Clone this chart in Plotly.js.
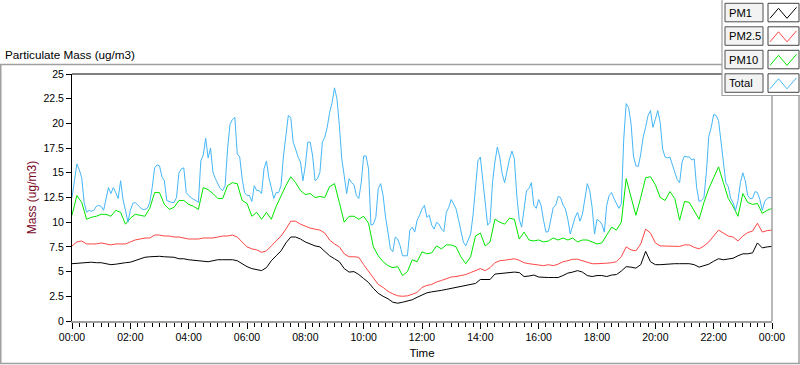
<!DOCTYPE html>
<html>
<head>
<meta charset="utf-8">
<script src="https://cdn.plot.ly/plotly-3.0.1.min.js"></script>
<style>
  html, body { margin: 0; padding: 0; background: #ffffff; }
  #chart { width: 800px; height: 365px; }
</style>
</head>
<body>
<div id="chart"></div>
<script>
const seriesNames = ['PM1', 'PM2.5', 'PM10', 'Total'];
const seriesColors = ['#000000', '#ff4646', '#00e600', '#45b6f7'];

// PM1, PM2.5, PM10: one sample every 10 minutes, 00:00 .. 24:00
const pm1 = [
  5.8, 5.85, 5.9, 5.9, 5.95, 5.9, 5.9, 5.8, 5.7, 5.75, 5.85, 5.9, 5.95, 6.1, 6.25, 6.45, 6.5, 6.55, 6.55, 6.5, 6.5, 6.45, 6.3, 6.3, 6.2, 6.15, 6.05, 6.0, 6.0,
  6.1, 6.2, 6.2, 6.2, 6.2, 6.1, 5.8, 5.5, 5.3, 5.2, 5.1, 5.4, 6.1, 6.6, 7.1, 7.9, 8.5, 8.5, 8.3, 8.0, 7.8, 7.6, 7.5, 7.0, 6.6, 6.3, 6.0, 5.3, 4.95,
  5.0, 4.7, 4.3, 3.9, 3.3, 2.8, 2.5, 2.25, 1.9, 1.8, 1.9, 2.0, 2.15, 2.4, 2.65, 2.85, 2.95, 3.0, 3.1, 3.2, 3.3, 3.4, 3.5, 3.6, 3.7, 3.8, 4.2, 4.2, 4.2,
  4.75, 4.8, 4.8, 4.85, 4.95, 4.9, 4.5, 4.55, 4.65, 4.45, 4.4, 4.4, 4.4, 4.4, 4.6, 4.85, 4.95, 5.1, 4.95, 4.6, 4.5, 4.6, 4.6, 4.5, 4.65, 4.7, 5.05, 5.5, 5.45,
  5.35, 5.7, 7.05, 6.0, 5.7, 5.7, 5.75, 5.75, 5.8, 5.8, 5.8, 5.8, 5.7, 5.45, 5.6, 5.75, 6.05, 6.3, 6.2, 6.3, 6.35, 6.6, 6.8, 6.8, 6.9, 7.9, 7.4, 7.5, 7.55
];
const pm25 = [
  7.6, 8.0, 8.1, 7.8, 7.8, 7.8, 7.9, 7.8, 7.7, 7.8, 7.8, 7.8, 8.0, 8.2, 8.3, 8.4, 8.4, 8.7, 8.7, 8.6, 8.6, 8.5, 8.5, 8.4, 8.3, 8.3, 8.3, 8.4, 8.4,
  8.4, 8.5, 8.6, 8.6, 8.7, 8.5, 8.0, 7.5, 7.3, 7.2, 6.95, 7.1, 7.6, 8.1, 8.6, 9.3, 10.1, 10.1, 9.8, 9.6, 9.4, 9.3, 9.2, 8.9, 8.2, 7.8, 7.5, 6.8, 6.5,
  6.5, 6.45, 5.7, 5.0, 4.3, 3.7, 3.4, 3.0, 2.75, 2.55, 2.5, 2.55, 2.7, 2.9, 3.4, 3.6, 3.7, 3.95, 4.1, 4.3, 4.45, 4.5, 4.6, 4.7, 4.9, 5.1, 5.3, 5.1, 5.4,
  5.9, 6.1, 6.15, 6.2, 6.3, 6.15, 5.9, 5.8, 5.75, 5.7, 5.6, 5.7, 5.6, 5.75, 6.0, 6.1, 6.25, 6.25, 6.1, 5.95, 5.8, 5.8, 5.8, 5.85, 5.9, 6.0, 6.5, 7.5, 7.2,
  7.1, 7.8, 9.3, 8.9, 7.9, 7.6, 7.6, 7.6, 7.55, 7.55, 7.7, 7.7, 7.45, 7.3, 7.6, 8.0, 8.6, 9.2, 8.9, 8.6, 8.5, 8.1, 8.6, 8.95, 9.1, 9.9, 9.0, 9.15, 9.2
];
const pm10 = [
  10.7, 12.7, 12.0, 10.3, 10.5, 10.6, 10.8, 10.8, 10.6, 11.2, 11.0, 9.8, 10.4, 10.8, 10.7, 10.6, 11.4, 13.0, 13.0, 11.8, 11.3, 11.5, 12.2, 12.2, 11.8, 11.6, 11.3, 13.5, 13.3,
  12.9, 12.4, 12.4, 13.7, 14.0, 13.9, 12.2, 11.9, 10.6, 11.0, 10.3, 11.0, 10.3, 11.6, 12.7, 13.7, 14.6, 14.0, 13.2, 12.8, 12.9, 12.5, 12.6, 12.5, 13.6, 13.9, 12.0, 10.0, 10.6,
  10.6, 10.3, 10.6, 9.9, 7.5, 6.6, 6.0, 5.6, 5.4, 5.5, 4.6, 5.0, 6.2, 6.0, 7.0, 6.8, 6.9, 7.6, 7.3, 7.7, 7.7, 7.5, 6.5, 5.8, 6.5, 8.6, 8.9, 7.6, 8.0,
  10.3, 10.0, 9.8, 10.4, 10.3, 8.3, 9.0, 8.2, 8.1, 8.2, 8.0, 8.1, 8.4, 8.2, 8.4, 8.2, 8.4, 8.0, 8.2, 8.2, 8.0, 7.8, 7.9, 8.7, 9.5, 9.2, 10.0, 14.4, 12.4,
  10.7, 12.5, 14.5, 14.6, 13.8, 12.5, 12.2, 13.1, 12.4, 10.2, 12.1, 12.0, 11.2, 10.3, 12.0, 13.4, 14.5, 15.6, 14.0, 12.4, 11.6, 10.6, 12.9, 12.0, 11.8, 11.9, 10.9, 11.2, 11.4
];
// Total: one sample every 5 minutes, 00:00 .. 24:00 (one row per hour)
const total = [
  12.5, 14.5, 15.9, 15.3, 14.5, 12.0, 11.0, 11.2, 11.1, 11.2, 11.6, 11.7,
  11.6, 11.2, 12.5, 13.5, 12.9, 13.5, 13.0, 12.4, 14.2, 12.3, 11.2, 10.0,
  11.2, 11.9, 12.0, 11.7, 11.5, 11.3, 11.3, 11.4, 12.0, 13.5, 15.5, 15.8,
  15.7, 14.6, 14.2, 12.2, 12.1, 12.0, 12.0, 12.5, 15.0, 15.4, 15.5, 13.0,
  12.7, 12.5, 12.3, 12.2, 12.0, 16.2, 16.8, 18.5, 16.5, 17.5, 15.05, 14.4,
  13.9, 13.4, 13.2, 13.7, 17.4, 19.9, 20.4, 20.6, 16.9, 16.6, 14.4, 13.0,
  12.7, 12.7, 12.1, 13.7, 13.2, 13.2, 12.9, 15.4, 16.2, 14.5, 13.5, 12.4,
  13.0, 13.0, 13.7, 16.7, 18.75, 20.8, 20.6, 18.1, 17.4, 16.6, 16.1, 14.2,
  15.7, 18.1, 18.1, 16.7, 14.2, 14.4, 15.05, 18.1, 18.6, 19.6, 21.1, 22.1,
  23.6, 22.5, 19.8, 16.4, 14.7, 12.9, 14.4, 14.0, 13.8, 12.7, 12.4, 14.0,
  16.7, 16.7, 15.4, 9.7, 9.8, 10.5, 13.4, 13.9, 12.7, 10.5, 9.0, 7.3,
  7.0, 8.5, 8.3, 7.6, 6.6, 6.6, 6.6, 9.2, 9.5, 9.0, 10.2, 10.7,
  11.35, 11.7, 10.5, 10.7, 9.7, 9.3, 10.0, 9.8, 9.3, 9.05, 11.0, 11.5,
  12.3, 11.85, 11.35, 10.3, 9.3, 8.0, 7.6, 8.3, 8.8, 10.7, 13.5, 16.2,
  16.6, 14.4, 11.7, 9.7, 10.0, 14.0, 16.1, 17.6, 16.6, 14.9, 14.0, 15.2,
  16.4, 17.2, 16.4, 12.7, 10.3, 9.5, 11.2, 13.2, 13.4, 14.0, 11.7, 11.4,
  12.3, 11.7, 10.2, 9.0, 9.05, 10.3, 11.5, 11.7, 12.6, 12.5, 11.75, 11.35,
  10.3, 8.8, 9.7, 10.5, 11.0, 10.1, 10.8, 12.4, 13.9, 13.2, 11.5, 8.8,
  10.3, 10.1, 9.8, 9.0, 11.7, 12.7, 13.0, 12.4, 11.85, 11.4, 11.85, 18.4,
  22.0, 21.6, 20.0, 16.7, 15.7, 15.65, 16.9, 18.6, 19.6, 20.8, 21.3, 19.6,
  20.4, 21.3, 20.1, 17.4, 16.6, 16.5, 16.6, 15.8, 14.9, 14.3, 14.0, 16.1,
  16.7, 16.6, 16.6, 16.3, 16.4, 13.5, 12.1, 12.2, 12.5, 15.05, 18.7, 19.6,
  20.9, 20.8, 20.3, 18.1, 16.4, 14.0, 13.6, 12.4, 11.95, 11.2, 12.2, 14.0,
  15.0, 14.2, 12.7, 12.4, 12.4, 13.1, 13.0, 12.3, 11.2, 12.1, 12.4, 12.5,
  12.5
];

const tickHours = [0, 2, 4, 6, 8, 10, 12, 14, 16, 18, 20, 22, 24];
const tickLabels = ['00:00', '02:00', '04:00', '06:00', '08:00', '10:00', '12:00', '14:00', '16:00', '18:00', '20:00', '22:00', '00:00'];

const hours10 = pm1.map((_, i) => i / 6);
const hours5 = total.map((_, i) => i / 12);
const values = [pm1, pm25, pm10, total];
const xs = [hours10, hours10, hours10, hours5];

const traces = values.map((v, k) => ({
  type: 'scatter', mode: 'lines', name: seriesNames[k],
  x: xs[k], y: v,
  line: { color: seriesColors[k], width: 1 },
  hoverinfo: 'skip'
}));

// pixel -> paper helpers (plot area: x 72..772, y 74..321)
const L = 72, R = 772, T = 74, B = 321;
const X = px => (px - L) / (R - L);
const Y = py => (B - py) / (B - T);

const gray = '#a0a0a0';
const shapes = [];
function line(x0, y0, x1, y1, color, w) {
  shapes.push({ type: 'line', xref: 'paper', yref: 'paper', x0: X(x0), y0: Y(y0), x1: X(x1), y1: Y(y1),
    line: { color: color, width: w }, layer: 'above' });
}
function rect(x0, y0, x1, y1, fill, color, w) {
  shapes.push({ type: 'rect', xref: 'paper', yref: 'paper', x0: X(x0), y0: Y(y0), x1: X(x1), y1: Y(y1),
    fillcolor: fill, line: { color: color, width: w }, layer: 'above' });
}
// outer frame
line(0, 64.5, 722, 64.5, gray, 1.5);
line(0.75, 64, 0.75, 364, gray, 1.5);
line(0, 363.5, 800, 363.5, gray, 1.5);
line(799, 95, 799, 364, gray, 1.5);
// plot frame top/right
line(L, T, R, T, '#000000', 1);
line(R, T, R, B, gray, 1.5);
// legend panel
rect(722, -2, 801, 95.5, '#ffffff', gray, 1.2);

const annotations = [];
const rowTops = [3.3, 26.8, 50.3, 73.8];
rowTops.forEach((ty, k) => {
  rect(725, ty, 763, ty + 18.5, '#f3f3f3', '#505050', 1);
  rect(768, ty, 799, ty + 18.5, '#ffffff', '#404040', 1);
  const pts = [[770, ty + 15], [778.5, ty + 5], [787, ty + 15], [796.5, ty + 4]];
  shapes.push({ type: 'path', xref: 'paper', yref: 'paper', layer: 'above',
    path: 'M' + pts.map(p => X(p[0]) + ',' + Y(p[1])).join(' L'),
    line: { color: seriesColors[k], width: 1 } });
  annotations.push({ xref: 'paper', yref: 'paper', x: X(726.5), y: Y(ty + 9.5), xanchor: 'left', yanchor: 'middle',
    text: seriesNames[k], showarrow: false, font: { family: 'Liberation Sans, Arial, sans-serif', size: 11.2, color: '#000000' } });
});

const layout = {
  width: 800, height: 365,
  margin: { l: L, r: 800 - R, t: T, b: 365 - B },
  paper_bgcolor: '#ffffff', plot_bgcolor: '#ffffff',
  showlegend: false,
  font: { family: 'Liberation Sans, Arial, sans-serif', size: 10.5, color: '#000000' },
  title: { text: 'Particulate Mass (ug/m3)', x: 5 / 800, xanchor: 'left', xref: 'container',
    y: 1 - 55 / 365, yanchor: 'middle', yref: 'container',
    font: { size: 11.7, color: '#000000' } },
  xaxis: {
    range: [0, 24], fixedrange: true,
    tickmode: 'array', tickvals: tickHours, ticktext: tickLabels,
    ticks: 'outside', ticklen: 6, tickcolor: '#000000', tickwidth: 1,
    minor: { tickmode: 'linear', tick0: 0, dtick: 0.25, ticks: 'outside', ticklen: 4, tickcolor: '#000000', showgrid: false },
    showgrid: false, zeroline: false,
    showline: true, linecolor: gray, linewidth: 1.5,
    tickfont: { size: 10.5 },
    title: { text: 'Time', font: { size: 11.5, color: '#000000' }, standoff: 7 }
  },
  yaxis: {
    range: [0, 25], fixedrange: true,
    tickmode: 'linear', tick0: 0, dtick: 2.5,
    ticks: 'outside', ticklen: 5, tickcolor: '#000000', tickwidth: 1,
    showgrid: false, zeroline: false,
    showline: true, linecolor: '#000000', linewidth: 1,
    tickfont: { size: 10.5 },
    title: { text: 'Mass (ug/m3)', font: { size: 12, color: '#7a0626' }, standoff: 4 }
  },
  shapes: shapes,
  annotations: annotations
};

Plotly.newPlot('chart', traces, layout, { displayModeBar: false, staticPlot: true });
</script>
</body>
</html>
